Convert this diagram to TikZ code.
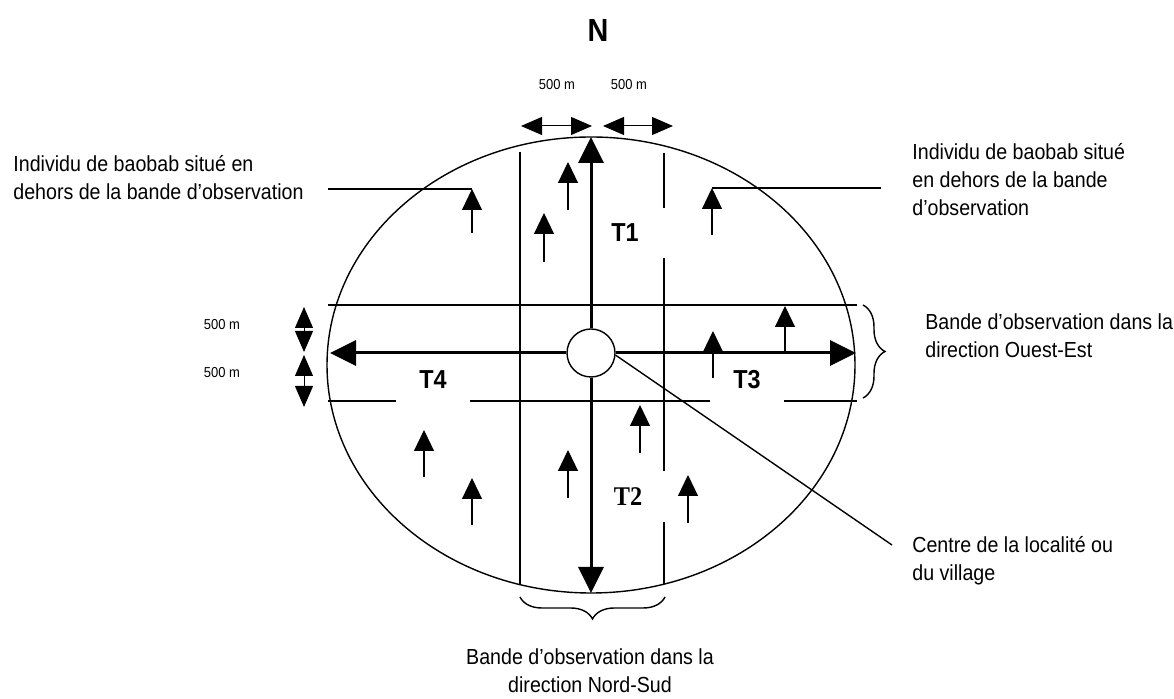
\documentclass[tikz,border=0pt]{standalone}
\usepackage{fontspec}
\setmainfont{Liberation Sans}[FakeStretch=0.9]
\newfontfamily\romanT{Liberation Serif}[FakeStretch=0.9]
\usetikzlibrary{arrows.meta,decorations.pathreplacing}

\begin{document}
\begin{tikzpicture}
          [x=0.5pt,y=-0.5pt,
          font=\fontsize{10.9}{14}\selectfont,
          txt/.style={align=left,inner sep=0pt,anchor=west},
          dist/.style={font=\fontsize{7.2}{9}\selectfont,inner sep=0pt},
          tlabel/.style={fill=white,inner sep=0pt,font=\fontsize{13}{15}\selectfont\bfseries},
          band/.style={line width=0.7pt},
          transect/.style={-{Triangle[length=13pt,width=12.5pt]},line width=1.5pt},
          tree/.style={-{Triangle[length=10.5pt,width=10pt]},line width=0.6pt},
          span/.style={{Triangle[length=10.5pt,width=9pt]}-{Triangle[length=10.5pt,width=9pt]},line width=0.5pt},
          brace/.style={decorate,decoration={brace,amplitude=11pt},line width=0.7pt}]

          \useasboundingbox (0,0) rectangle (1174,699);

          % locality and observation bands
          \draw [line width=0.7pt] (591,365) ellipse [x radius=264, y radius=228];
          \draw [band] (520,152) -- (520,584);
          \draw [band] (664,153) -- (664,584);
          \draw [band] (328,305) -- (857,305);
          \draw [band] (328,401) -- (857,401);

          \node (T1) [tlabel,minimum width=42pt,minimum height=25pt] at (625,233) {T1};
          \node (T2) [tlabel,minimum width=38pt,minimum height=25.5pt,font=\fontsize{13.5}{15}\romanT\bfseries] at (628,497) {T2};
          \node (T3) [tlabel,minimum width=37pt,minimum height=22pt] at (747,380) {T3};
          \node (T4) [tlabel,minimum width=37pt,minimum height=22pt] at (433,380) {T4};

          % transects from the centre
          \node (centre) [circle,draw,line width=0.7pt,fill=white,minimum size=24pt,inner sep=0pt] at (591,353) {};
          \coordinate (nord) at (591,137);
          \coordinate (sud) at (591,593);
          \coordinate (ouest) at (330,353);
          \coordinate (est) at (856,353);
          \draw [transect] (centre) -- (nord);
          \draw [transect] (centre) -- (sud);
          \draw [transect] (centre) -- (ouest);
          \draw [transect] (centre) -- (est);

          % baobabs
          \coordinate (L1) at (472,189);
          \coordinate (R1) at (712,188);
          \draw [tree] (472,233) -- (L1);
          \draw [tree] (712,235) -- (R1);
          \draw [tree] (568,210) -- (568,162);
          \draw [tree] (544,262) -- (544,213);
          \draw [tree] (785,353) -- (785,306);
          \draw [tree] (713,378) -- (713,331);
          \draw [tree] (640,453) -- (640,405);
          \draw [tree] (424,477) -- (424,430);
          \draw [tree] (472,525) -- (472,478);
          \draw [tree] (568,498) -- (568,450);
          \draw [tree] (688,523) -- (688,475);

          % 500 m widths
          \draw [span] (521,126) -- (592,126);
          \draw [span] (603,126) -- (673,126);
          \draw [span] (304,307) -- (304,352);
          \draw [span] (304,355) -- (304,407);
          \node (d1) [dist] at (557,85) {500 m};
          \node (d2) [dist] at (629,85) {500 m};
          \node (d3) [dist] at (222,325) {500 m};
          \node (d4) [dist] at (222,373) {500 m};

          \node (N) [font=\fontsize{16}{18}\selectfont\bfseries] at (598,30) {N};

          % callouts
          \coordinate (L0) at (328,189);
          \coordinate (R0) at (881,188);
          \coordinate (ptr) at (892,545);
          \draw [band] (L0) -- (L1);
          \draw [band] (R1) -- (R0);
          \draw [band] (centre.-5) -- (ptr);
          \draw [brace] (863,305) -- (863,398);
          \draw [brace] (665,597) -- (520,597);

          \node (horsG) [txt] at (13,178) {Individu de baobab situé en\\dehors de la bande d’observation};
          \node (horsD) [txt] at (912,180) {Individu de baobab situé\\en dehors de la bande\\d’observation};
          \node (bandeOE) [txt] at (925,336) {Bande d’observation dans la\\direction Ouest-Est};
          \node (village) [txt] at (912,561) {Centre de la localité ou\\du village};
          \node (bandeNS) [align=center,inner sep=0pt] at (590,671) {Bande d’observation dans la\\direction Nord-Sud};

        \end{tikzpicture}
\end{document}
